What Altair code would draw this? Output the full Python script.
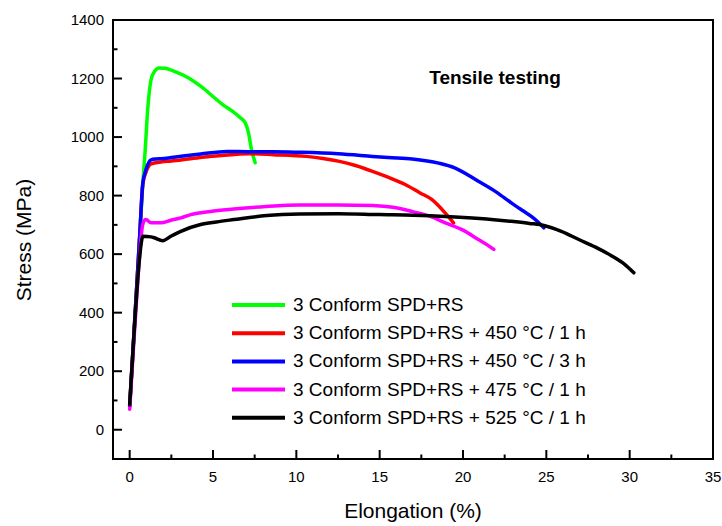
import altair as alt
import pandas as pd

FONT = "Liberation Sans"

series_names = [
    "3 Conform SPD+RS",
    "3 Conform SPD+RS + 450 °C / 1 h",
    "3 Conform SPD+RS + 450 °C / 3 h",
    "3 Conform SPD+RS + 475 °C / 1 h",
    "3 Conform SPD+RS + 525 °C / 1 h",
]
series_colors = ["#00FF00", "#FF0000", "#0000FF", "#FF00FF", "#000000"]

green_x = [0, 0.3, 0.6, 0.79, 0.92, 1.08, 1.28, 1.5, 1.77, 2.1, 2.8, 3.54, 4.3, 5.03, 5.6, 6.22, 6.6, 6.93, 7.13, 7.3, 7.53]
green_y = [80, 370, 660, 843, 945, 1093, 1195, 1225, 1236, 1235, 1222, 1202, 1172, 1137, 1110, 1086, 1068, 1049, 1014, 960, 912]

red_x = [0, 0.3, 0.6, 0.79, 0.98, 1.28, 1.88, 2.5, 3.5, 4.5, 5.5, 7.13, 8.62, 10.6, 11.6, 12.59, 13.6, 14.57, 15.5, 16.56, 17.4, 18.14, 18.94, 19.43]
red_y = [80, 370, 660, 840, 880, 908, 915, 918, 925, 932, 937, 943, 940, 934, 927, 917, 902, 883, 863, 837, 810, 786, 740, 707]

blue_x = [0, 0.3, 0.6, 0.79, 0.98, 1.28, 1.6, 1.88, 2.5, 3.2, 4.26, 5.84, 7.13, 8.6, 10.2, 12.5, 14.57, 15.5, 16.95, 18.54, 19.5, 20.92, 22.0, 22.9, 23.6, 24.1, 24.5, 24.85]
blue_y = [80, 370, 660, 843, 889, 922, 925, 926, 930, 935, 942, 951, 950, 950, 948, 943, 934, 930, 925, 911, 895, 849, 812, 775, 748, 729, 710, 690]

magenta_x = [0, 0.25, 0.5, 0.75, 0.88, 0.98, 1.28, 1.88, 2.47, 3.07, 3.66, 4.85, 6.24, 8.2, 10.2, 12.5, 14.57, 15.8, 16.93, 18.0, 18.94, 20.0, 20.92, 21.5, 21.85]
magenta_y = [70, 300, 520, 690, 715, 718, 707, 707, 716, 724, 735, 746, 754, 763, 768, 768, 766, 760, 746, 730, 707, 682, 650, 630, 616]

black_x = [0, 0.29, 0.55, 0.7, 0.79, 1.28, 1.48, 1.98, 2.47, 3.07, 4.26, 5.2, 6.24, 8.23, 10.2, 12.5, 14.97, 17.0, 18.94, 21.0, 22.9, 24.0, 24.85, 25.9, 26.95, 27.95, 28.95, 29.7, 30.25]
black_y = [85, 354, 560, 640, 661, 659, 656, 646, 661, 678, 701, 710, 718, 732, 737, 738, 735, 733, 729, 722, 712, 705, 698, 678, 650, 624, 593, 565, 536]

x_major = [0, 5, 10, 15, 20, 25, 30, 35]
x_minor = [2.5, 7.5, 12.5, 17.5, 22.5, 27.5, 32.5]
y_major = [0, 200, 400, 600, 800, 1000, 1200, 1400]
y_minor = [100, 300, 500, 700, 900, 1100, 1300]
x_title = "Elongation (%)"
y_title = "Stress (MPa)"
chart_label = "Tensile testing"

W, H = 600, 439

rows = []
for name, xs, ys in zip(series_names,
                        [green_x, red_x, blue_x, magenta_x, black_x],
                        [green_y, red_y, blue_y, magenta_y, black_y]):
    for i, (xv, yv) in enumerate(zip(xs, ys)):
        rows.append({"series": name, "x": xv, "y": yv, "i": i})
df = pd.DataFrame(rows)

xscale = alt.Scale(domain=[-1, 35], nice=False, zero=False)
yscale = alt.Scale(domain=[-100, 1400], nice=False, zero=False)
cscale = alt.Scale(domain=series_names, range=series_colors)

lines = alt.Chart(df).mark_line(strokeWidth=3.5, strokeJoin="round", strokeCap="round",
                                interpolate="monotone").encode(
    x=alt.X("x:Q", scale=xscale, axis=None),
    y=alt.Y("y:Q", scale=yscale, axis=None),
    color=alt.Color("series:N", scale=cscale, legend=None),
    detail="series:N",
    order="i:Q",
)

# inward tick marks, positioned through the same scales
xmaj = alt.Chart(pd.DataFrame({"xt": x_major})).mark_rule(color="black", strokeWidth=2).encode(
    x=alt.X("xt:Q", scale=xscale, axis=None), y=alt.value(H - 9), y2=alt.value(H))
xmin = alt.Chart(pd.DataFrame({"xt": x_minor})).mark_rule(color="black", strokeWidth=2).encode(
    x=alt.X("xt:Q", scale=xscale, axis=None), y=alt.value(H - 4.5), y2=alt.value(H))
ymaj = alt.Chart(pd.DataFrame({"yt": y_major})).mark_rule(color="black", strokeWidth=2).encode(
    y=alt.Y("yt:Q", scale=yscale, axis=None), x=alt.value(0), x2=alt.value(9))
ymin = alt.Chart(pd.DataFrame({"yt": y_minor})).mark_rule(color="black", strokeWidth=2).encode(
    y=alt.Y("yt:Q", scale=yscale, axis=None), x=alt.value(0), x2=alt.value(4.5))

# tick labels through the same scales
xlab = alt.Chart(pd.DataFrame({"xt": x_major, "lab": [str(v) for v in x_major]})).mark_text(
    font=FONT, fontSize=15, color="black", align="center", baseline="middle"
).encode(x=alt.X("xt:Q", scale=xscale, axis=None), y=alt.value(H + 18), text="lab:N")
ylab = alt.Chart(pd.DataFrame({"yt": y_major, "lab": [str(v) for v in y_major]})).mark_text(
    font=FONT, fontSize=15, color="black", align="right", baseline="middle"
).encode(y=alt.Y("yt:Q", scale=yscale, axis=None), x=alt.value(-9), text="lab:N")

# axis titles
xtit = alt.Chart(pd.DataFrame({"t": [x_title]})).mark_text(
    font=FONT, fontSize=21, color="black", align="center", baseline="middle"
).encode(x=alt.value(W / 2), y=alt.value(H + 53), text="t:N")
ytit = alt.Chart(pd.DataFrame({"t": [y_title]})).mark_text(
    font=FONT, fontSize=21, color="black", align="center", baseline="middle", angle=270
).encode(x=alt.value(-88), y=alt.value(220), text="t:N")

# manual legend (rows 28 px apart)
leg_df = pd.DataFrame({"series": series_names, "k": list(range(len(series_names)))})
leg_base = alt.Chart(leg_df).transform_calculate(py="285 + 28.2*datum.k")
leg_lines = leg_base.mark_rule(strokeWidth=4).encode(
    x=alt.value(119), x2=alt.value(172),
    y=alt.Y("py:Q", scale=None, axis=None),
    color=alt.Color("series:N", scale=cscale, legend=None),
)
leg_text = leg_base.mark_text(font=FONT, fontSize=19, color="black", align="left",
                              baseline="middle").encode(
    x=alt.value(180),
    y=alt.Y("py:Q", scale=None, axis=None),
    text="series:N",
)

title = alt.Chart(pd.DataFrame({"t": [chart_label]})).mark_text(
    font=FONT, fontSize=19, fontWeight="bold", color="black", align="center", baseline="middle"
).encode(x=alt.value(382), y=alt.value(58), text="t:N")

chart = alt.layer(lines, xmaj, xmin, ymaj, ymin, xlab, ylab, xtit, ytit,
                  leg_lines, leg_text, title).properties(
    width=W, height=H,
    autosize=alt.AutoSizeParams(type="none"),
    padding={"left": 113, "top": 20, "right": 9, "bottom": 67},
    background="white",
).configure_view(stroke="black", strokeWidth=2)

chart.save("out.html", embed_options={"renderer": "svg", "actions": False})
